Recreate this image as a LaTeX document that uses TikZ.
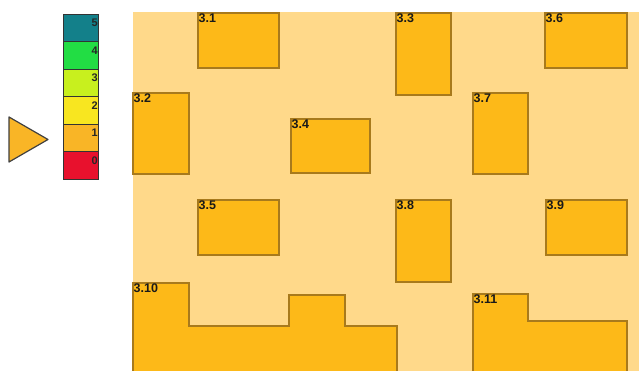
\documentclass[tikz,border=0pt]{standalone}
\usepackage{fontspec}
\setmainfont{Liberation Sans}
\usetikzlibrary{positioning}
\definecolor{floorbg}{HTML}{FFD98A}
\definecolor{roomfill}{HTML}{FDB918}
\definecolor{roomline}{HTML}{A87A1C}
\definecolor{lvlfive}{HTML}{13808A}
\definecolor{lvlfour}{HTML}{22DD44}
\definecolor{lvlthree}{HTML}{C8F01E}
\definecolor{lvltwo}{HTML}{F8E620}
\definecolor{lvlone}{HTML}{F9B526}
\definecolor{lvlzero}{HTML}{E8112D}
\begin{document}
\begin{tikzpicture}[
  x=1pt,y=-1pt,
  room/.style={draw=roomline,fill=roomfill,line width=1.2pt},
  lab/.style={anchor=north west,inner sep=0.5pt,font=\fontsize{12.5}{12.5}\selectfont\bfseries,text=black!90},
  lvl/.style={draw=black!80,line width=1pt,minimum width=35pt,minimum height=27.5pt,
    anchor=north west,inner sep=0pt},
  lvlnum/.style={anchor=north east,inner sep=1pt,font=\fontsize{11}{11}\selectfont\bfseries,text=black!85}
]
\useasboundingbox (0,0) rectangle (639,371);
\fill[floorbg] (133,12) rectangle (639,371);
% rectangular rooms
\foreach \n/\xa/\ya/\xb/\yb in {1/198/13/279/68, 2/133/93/189/174, 3/396/13/451/95,
    4/291/119/370/173, 5/198/200/279/255, 6/545/13/627/68, 7/473/93/528/174,
    8/396/200/451/282, 9/546/200/627/255} {
  \draw[room] (\xa,\ya) rectangle (\xb,\yb);
  \node[lab] (r\n) at (\xa,\ya) {3.\n};
}
% stepped rooms
\draw[room] (133,373) -- (133,283) -- (189,283) -- (189,326) -- (289,326) -- (289,295)
  -- (345,295) -- (345,326) -- (397,326) -- (397,373);
\node[lab] (r10) at (133,283) {3.10};
\draw[room] (473,373) -- (473,294) -- (528,294) -- (528,321) -- (627,321) -- (627,373);
\node[lab] (r11) at (473,294) {3.11};
% legend
\foreach \i/\c [count=\k from 0] in {5/lvlfive,4/lvlfour,3/lvlthree,2/lvltwo,1/lvlone,0/lvlzero} {
  \node[lvl,fill=\c] (l\i) at (63,14+27.5*\k) {};
  \node[lvlnum] (n\i) at ([yshift=-4pt]l\i.north east) {\i};
}
\draw[draw=black!75,fill=lvlone,line width=1.2pt,line join=round] (9,117) -- (48,139.5) -- (9,162) -- cycle;
\end{tikzpicture}
\end{document}
